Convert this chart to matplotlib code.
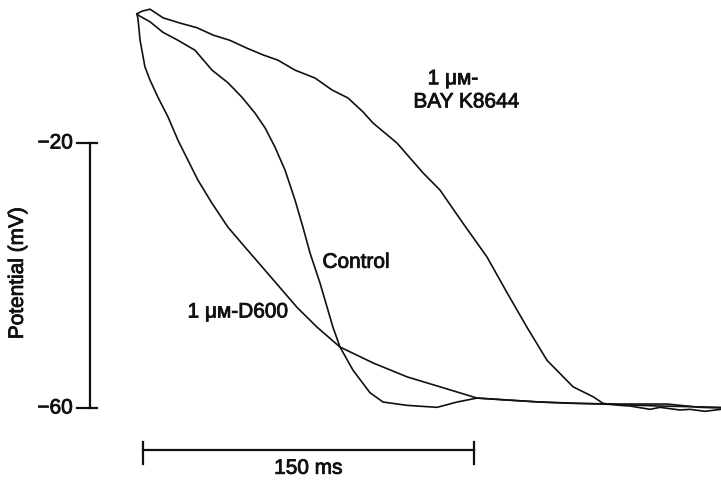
import numpy as np
import matplotlib.pyplot as plt
import matplotlib.patheffects as pe

plt.rcParams['font.family'] = ['Liberation Sans', 'DejaVu Sans']

# time (ms) and membrane potential (mV)
t_bay = [0, 2.3, 5.9, 11.8, 19.5, 27.2, 34.4, 42.1, 49.9, 57.1, 63.9, 71.6, 80.7,
         88.4, 95.6, 102.4, 107.0, 117.8, 129.6, 137.3, 147.7, 158.6, 167.7, 176.7,
         185.8, 197.6, 206.7, 211.2, 218.9, 223.4, 232.5, 237.0, 246.1, 250.6,
         257.4, 264.7]
v_bay = [-0.5, -0.1, 0.2, -1.1, -1.9, -2.6, -3.7, -4.5, -5.7, -6.7, -7.5, -9.0, -10.2,
         -12.0, -13.2, -15.3, -17.0, -20.0, -24.5, -27.1, -32.1, -37.2, -42.6, -47.8,
         -52.8, -56.8, -58.3, -59.3, -59.6, -59.7, -60.2, -59.9, -60.3, -60.2,
         -60.5, -60.2]

t_ctrl = [0, 0.5, 5.9, 11.8, 18.6, 26.3, 34.0, 41.2, 47.6, 53.5, 58.0, 62.5, 67.1,
          71.6, 75.2, 78.4, 82.9, 88.8, 92.0, 97.9, 105.6, 111.5, 122.4, 136.0,
          145.0, 154.1, 182.6, 197.6, 218.9, 240.2, 255.1, 264.7]
v_ctrl = [-0.5, -0.7, -1.7, -3.3, -4.5, -6.0, -9.0, -10.9, -13.1, -15.5, -17.7, -20.6,
          -24.1, -28.6, -32.7, -36.6, -41.1, -47.8, -50.8, -54.3, -57.7, -59.1, -59.6,
          -59.9, -59.1, -58.5, -59.1, -59.3, -59.4, -59.4, -59.9, -60.0]

t_d600 = [0, 0.5, 1.4, 3.6, 5.9, 9.5, 14.1, 18.6, 23.1, 27.6, 34.0, 41.2, 48.9, 58.0,
          72.5, 81.6, 92.0, 107.0, 122.4, 137.3, 154.1, 167.7, 182.6, 209.8, 237.0,
          264.7]
v_d600 = [-0.5, -1.4, -4.5, -8.5, -10.5, -13.1, -16.1, -19.6, -22.6, -25.6, -29.1,
          -32.7, -35.7, -39.2, -44.8, -47.8, -50.8, -53.2, -55.3, -56.8, -58.5, -58.8,
          -59.1, -59.4, -59.7, -59.9]

traces = [(t_bay, v_bay), (t_ctrl, v_ctrl), (t_d600, v_d600)]

fig = plt.figure(figsize=(7.21, 4.83), dpi=100)
ax = fig.add_axes([0, 0, 1, 1])
ax.set_xlim(-62.08, 264.65)
ax.set_ylim(-71.32, 1.585)
ax.axis('off')

ink = '#111111'
thick = [pe.withStroke(linewidth=0.6, foreground=ink)]
for t, v in traces:
    ax.plot(t, v, color=ink, lw=1.2)

# potential scale bar
ax.plot([-21.3, -21.3], [-20, -60], color=ink, lw=1.6)
for yv in (-20, -60):
    ax.plot([-27.2, -18.1], [yv, yv], color=ink, lw=1.6)
    ax.text(-29.0, yv, '\u221220' if yv == -20 else '\u221260', ha='right', va='center',
            fontsize=15, color=ink, path_effects=thick)
ax.text(-54.2, -39.6, 'Potential (mV)', rotation=90, ha='center', va='center',
        fontsize=15, color=ink, path_effects=thick)

# time scale bar
ax.plot([2.7, 152.7], [-66.3, -66.3], color=ink, lw=1.6)
for xv in (2.7, 152.7):
    ax.plot([xv, xv], [-65.1, -68.4], color=ink, lw=1.6)
ax.text(77.7, -69.1, '150 ms', ha='center', va='center', fontsize=15, color=ink,
        path_effects=thick)

# trace labels
ax.text(143.2, -10.3, '1 \u03bc\u1d0d-', ha='center', va='center', fontsize=15,
        color=ink, path_effects=thick)
ax.text(149.3, -13.8, 'BAY K8644', ha='center', va='center', fontsize=15, color=ink,
        path_effects=thick)
ax.text(99.3, -38.0, 'Control', ha='center', va='center', fontsize=15, color=ink,
        path_effects=thick)
ax.text(45.8, -45.5, '1 \u03bc\u1d0d-D600', ha='center', va='center', fontsize=15,
        color=ink, path_effects=thick)

fig.savefig('out.png', dpi=100)
